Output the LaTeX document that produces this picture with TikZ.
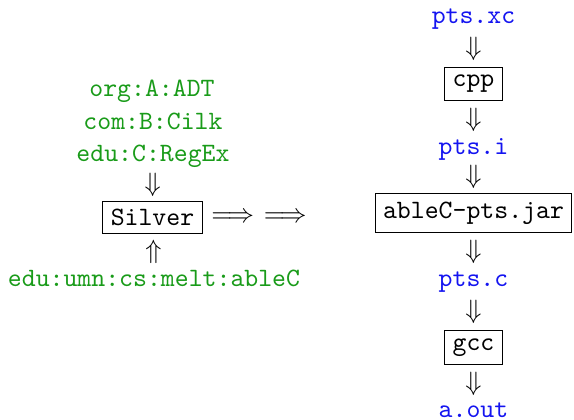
\documentclass[tikz,border=0pt]{standalone}
\usetikzlibrary{calc}
\definecolor{fgreen}{RGB}{25,155,25}
\definecolor{fblue}{RGB}{20,20,240}
\tikzset{
  gtxt/.style={anchor=base,inner sep=0pt,text=fgreen,font=\ttfamily},
  btxt/.style={anchor=base,inner sep=0pt,text=fblue,font=\ttfamily},
  tool/.style={draw,line width=0.4pt,inner sep=3pt,font=\ttfamily},
  arr/.style={inner sep=0pt},
}
\begin{document}
\begin{tikzpicture}[x=0.3774pt,y=-0.3774pt]
\useasboundingbox (0,0) rectangle (574,420);
% left column
\node[gtxt] (adt) at (152,97) {org:A:ADT};
\node[gtxt] (cilk) at (153,129.5) {com:B:Cilk};
\node[gtxt] (regex) at (153,162) {edu:C:RegEx};
\node[tool] (silver) at (152.5,217.5) {Silver};
\node[gtxt] (ablec) at (154,287) {edu:umn:cs:melt:ableC};
\path (regex) -- node[arr]{$\Downarrow$} (silver);
\path (ablec) -- node[arr]{$\Uparrow$} (silver);
\coordinate (free) at (306,217.5);
\path (silver.east) -- node[arr,pos=0.29]{$\Longrightarrow$} node[arr,pos=0.80]{$\Longrightarrow$} (free);
% right column
\node[btxt] (xc) at (473.5,24) {pts.xc};
\node[tool] (cpp) at (473.5,84) {cpp};
\node[btxt] (ii) at (473.5,155) {pts.i};
\node[tool] (jar) at (473.5,213) {ableC-pts.jar};
\node[btxt] (cc) at (473.5,287) {pts.c};
\node[tool] (gcc) at (473.5,347.5) {gcc};
\node[btxt] (out) at (473.5,418) {a.out};
\path (xc) -- node[arr]{$\Downarrow$} (cpp);
\path (cpp) -- node[arr]{$\Downarrow$} (ii);
\path (ii) -- node[arr]{$\Downarrow$} (jar);
\path (jar) -- node[arr]{$\Downarrow$} (cc);
\path (cc) -- node[arr]{$\Downarrow$} (gcc);
\path (gcc) -- node[arr]{$\Downarrow$} (out);
\end{tikzpicture}
\end{document}
